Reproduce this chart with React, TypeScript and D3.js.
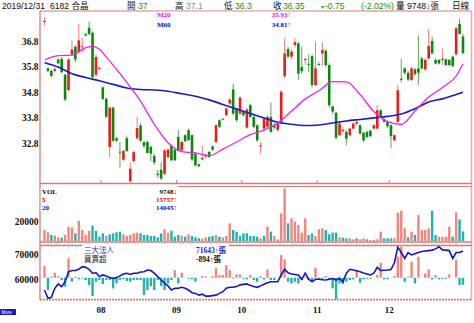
import React from 'react';
import * as d3 from 'd3';

// ---------- DATA ----------
const opens = [37.6,35.75,35.65,35.65,36.1,36.12,35.5,34.9,36.3,36.6,36.4,36.58,37.1,37.35,37.15,35.5,35.75,35.0,34.55,32.65,34.2,33.0,32.47,32.15,33.0,31.3,32.1,33.0,33.5,32.85,32.85,32.66,32.3,31.6,31.76,31.6,32.26,32.72,32.55,33.05,32.52,33.12,33.32,33.12,32.39,31.97,32.17,32.28,32.46,32.68,32.85,33.71,33.73,33.91,34.37,34.92,34.17,33.97,34.04,33.42,34.3,33.84,33.51,32.68,33.38,33.45,33.84,33.5,33.32,33.64,35.44,36.51,36.21,36.67,36.73,35.81,36.08,35.93,36.23,35.09,35.92,36.34,36.44,35.88,34.25,34.0,33.12,33.28,33.25,33.12,33.38,33.58,33.51,33.21,33.25,33.29,33.38,33.38,34.1,33.75,33.64,33.51,32.92,33.64,35.35,35.75,35.58,35.29,35.71,35.75,36.14,35.71,36.14,36.83,36.08,36.08,36.08,36.1,36.08,36.21,36.31,37.5,37.0];
const highs = [37.75,35.8,35.7,35.8,36.15,36.2,35.55,36.15,36.85,36.65,37.5,36.95,37.15,37.6,37.2,36.3,35.8,35.05,34.6,34.25,34.25,33.05,32.85,32.55,33.1,32.05,32.5,33.85,33.6,32.9,32.9,32.7,32.4,31.75,32.06,32.55,32.6,32.75,32.6,33.32,32.9,33.15,33.38,33.15,32.45,32.0,32.7,32.4,32.5,32.72,33.55,33.75,33.8,34.2,34.6,35.15,34.2,34.65,34.1,34.2,34.35,33.9,33.55,32.85,33.85,33.9,34.4,33.6,33.65,34.9,36.93,36.6,36.5,36.95,36.8,36.6,36.15,36.3,36.3,36.8,36.0,36.8,36.5,35.95,34.3,34.05,33.65,33.45,33.3,33.42,33.62,33.7,33.55,33.25,33.3,33.35,33.55,34.3,34.15,33.8,33.7,33.55,33.15,35.09,36.13,35.8,35.65,35.8,35.78,37.05,36.2,36.15,37.3,37.0,36.15,36.12,36.54,36.15,36.12,36.25,37.4,37.72,37.1];
const lows = [37.45,35.6,35.4,35.6,35.9,35.55,34.45,34.85,36.25,36.0,36.35,36.4,37.0,37.05,35.3,35.4,35.7,34.5,33.8,32.25,32.85,32.85,31.85,32.1,32.45,31.25,32.05,32.95,32.85,32.6,32.4,32.1,31.95,31.45,31.35,31.55,32.2,32.1,32.1,32.5,32.45,32.85,32.9,32.1,31.9,31.85,32.13,32.2,32.22,32.5,32.8,33.4,33.7,33.88,34.3,33.9,33.65,33.9,33.85,33.38,33.8,33.4,32.85,32.4,33.3,33.4,33.2,33.35,33.28,33.6,35.4,36.15,36.1,36.6,35.3,35.55,35.9,35.6,35.0,35.05,35.85,35.85,35.8,34.2,33.95,32.95,33.08,33.2,32.72,33.08,33.35,33.5,33.15,32.85,33.0,33.05,33.35,33.35,33.8,33.6,33.4,32.6,32.88,33.6,35.2,35.5,35.25,35.25,35.45,35.1,35.7,35.65,36.1,36.3,35.9,35.9,35.88,35.85,35.85,35.8,36.25,37.1,36.3];
const closes = [37.62,35.65,35.45,35.72,35.95,35.6,34.52,36.1,36.5,36.1,36.85,36.62,37.05,37.1,35.4,36.2,35.77,34.55,33.85,34.2,32.9,32.9,32.43,32.5,32.5,31.8,32.45,33.4,32.9,32.7,32.42,32.39,32.05,31.55,31.41,32.52,32.55,32.13,32.13,32.52,32.85,32.88,32.92,32.16,31.93,31.9,32.22,32.32,32.26,32.55,33.51,33.45,33.77,34.17,34.52,33.97,33.71,34.6,33.91,34.13,33.84,33.45,32.92,32.72,33.77,33.84,33.25,33.42,33.58,34.83,36.34,36.21,36.41,36.78,35.55,35.64,36.12,35.9,35.09,35.75,35.88,36.47,35.88,34.3,34.05,33.02,33.58,33.33,32.98,33.38,33.58,33.64,33.18,32.92,33.05,33.08,33.51,34.1,33.84,33.65,33.47,33.08,33.12,34.89,35.3,35.58,35.31,35.75,35.52,35.58,35.75,36.08,36.63,36.34,35.94,35.94,36.12,35.88,35.88,35.84,37.33,37.1,36.35];

const volumes = [11200,8800,6100,5400,3700,3400,6100,14600,13900,7800,20700,11200,6100,10200,15600,10200,4400,7800,5400,6800,7800,8800,9500,6800,5100,6100,7800,8500,7800,6100,6100,5100,5100,3700,7800,11900,8500,10500,4400,6100,5100,4400,6800,5100,3700,2700,2400,3700,4400,5100,6100,4400,3700,5100,18000,11200,9500,5100,7800,7800,5100,5100,4400,2700,5100,14600,9500,5100,1700,28100,53600,18000,23000,19700,16300,8500,23000,6100,7800,5100,11900,12900,11200,6800,8500,8500,3700,3400,2700,2700,1700,2700,1700,2700,1700,1000,1000,1700,9500,2700,2700,2700,2700,28800,30800,12900,3700,9500,6100,26400,11200,11200,12900,30800,6100,4400,4400,4400,14600,4400,29200,22000,9748];
const volDir = 'rrgrrgrrrg' + 'rrrrggggrg' + 'gggrrrrrgg' + 'gggggrrggg' + 'rgrgggrrgg' + 'rgrrrggggg' + 'gggrgrgrrr' + 'rgrrrrrggr' + 'rrggggrggr' + 'rgrrgrrrrg' + 'ggrrrrgrgr' + 'rrrggrrrrg' + 'rgg';

const instHold = [55600,52200,52600,56300,58100,57000,59000,63100,63600,63600,64100,65200,64900,64100,62500,62700,61100,61800,61400,60700,60400,60700,61400,62200,62500,62000,62500,62500,63000,63100,63800,63600,62500,61100,59700,58400,57300,55600,56300,56300,56700,56300,55600,54500,54200,53500,53900,53100,53100,53300,53500,54200,54900,56300,56700,56700,57000,57700,57900,58100,57500,57000,56700,57300,58000,58600,59000,59000,59000,61800,64100,62700,62200,62000,61800,60000,62500,60000,59000,60000,60000,59800,59700,60000,60300,59700,60400,59000,62500,64100,63800,63500,63100,62600,62200,61800,62500,64900,63600,63700,63800,64000,66800,73200,71000,68600,71000,70000,70500,71000,71400,71600,71800,72000,72500,73400,72100,72000,71800,68600,71000,71000,71643];
const instNet = [1490,-1580,150,640,200,-300,-1150,2480,-510,150,-200,-100,-300,-940,-2350,-510,-300,-810,-300,-300,-1370,-730,-300,-200,-430,-510,-300,-300,-300,-2220,-1580,-1070,-1580,-300,-1070,-1580,-730,-300,980,-730,640,0,-130,-200,-510,0,210,130,0,210,1200,340,340,1620,980,-100,430,430,-130,-210,340,-300,-510,210,-210,1070,-300,-300,0,2900,2350,-510,-730,-510,-730,-300,130,-300,-510,1280,-300,-210,210,-210,-1370,-2780,-730,-810,-510,-300,-210,980,-640,-210,-130,-130,0,340,1920,-210,-210,0,210,2690,3970,-510,130,2050,-730,2690,0,550,1070,-210,340,-210,-130,-130,430,0,2260,-940,-894];

// moving averages: [bar index, value]
const ma20Pts = [[0,36.08],[4,36.25],[8,36.27],[12,36.56],[14,36.62],[16,36.5],[18,36.2],[20,35.88],[24,35.2],[28,34.46],[32,33.55],[36,32.82],[40,32.47],[44,32.42],[48,32.31],[52,32.57],[56,32.85],[60,33.14],[64,33.32],[68,33.6],[72,34.07],[76,34.54],[80,34.87],[84,35.23],[88,35.22],[92,34.72],[96,34.05],[100,33.65],[104,33.54],[108,34.07],[112,34.62],[116,35.0],[120,35.45],[122,35.93]];
const ma60Pts = [[0,35.97],[4,35.8],[8,35.54],[12,35.39],[16,35.26],[20,35.12],[24,34.98],[28,34.92],[32,34.9],[36,34.85],[40,34.75],[44,34.65],[48,34.51],[52,34.33],[56,34.15],[60,33.97],[64,33.8],[68,33.63],[72,33.55],[76,33.5],[80,33.52],[84,33.6],[88,33.68],[92,33.74],[96,33.8],[100,33.86],[104,33.95],[108,34.16],[112,34.43],[116,34.55],[120,34.72],[122,34.81]];

const priceTicks = [36.8, 35.8, 34.8, 33.8, 32.8];
const volTicks = [20000];
const instTicks = [70000, 60000];
const monthStarts = [17, 39, 58, 80, 101];
const monthLabels = ['08', '09', '10', '11', '12'];

// ---------- STYLE ----------
const RED = '#ee1a1a';
const GREEN = '#0c870c';
const RED_WICK = '#f07a7a';
const GREEN_WICK = '#58a858';
const VRED = '#f4847e';
const VTEAL = '#22b3aa';
const BORDER = '#d67a7a';
const SERIF = "'Liberation Serif', 'Noto Sans CJK TC', serif";
const SANS = "'Liberation Sans', 'Noto Sans CJK TC', sans-serif";
const TXTGREEN = '#0a960a';

export default function App() {
  const N = closes.length;
  const L = 40, R = 471.5;
  const x = d3.scaleLinear().domain([0, N - 1]).range([44.5, 463]);
  const yP = d3.scaleLinear().domain([31.237, 38.009]).range([183, 11]);
  const yV = d3.scaleLinear().domain([0, 55000]).range([241, 187]);
  const yI = d3.scaleLinear().domain([51900, 74100]).range([299, 245]);
  const yN = d3.scaleLinear().domain([-2800, 4000]).range([299.6, 246.5]);

  const bw = 2.6;
  const vw = 2.4;

  const maLine = d3.line().x((d) => x(d[0])).y((d) => yP(d[1])).curve(d3.curveMonotoneX);
  const instLine = d3.line().x((d, i) => x(i)).y((d) => yI(d));

  return (
    <svg width={474} height={323} viewBox="0 0 474 323"
      style={{ position: 'absolute', left: 0, top: 0, background: '#fff', display: 'block' }}>
      <defs>
        <clipPath id="cp1"><rect x={L} y={11} width={R - L} height={172} /></clipPath>
        <clipPath id="cp3"><rect x={L} y={245} width={R - L} height={54.5} /></clipPath>
      </defs>
      <rect x={0} y={0} width={474} height={323} fill="#fff" />

      {/* header */}
      <g fontFamily={SANS} fontSize={8.6}>
        <text x={2} y={9} fill="#111">2019/12/31</text>
        <text x={50} y={9} fill="#111">6182 合晶</text>
        <text x={127} y={9} fill="#111">開</text>
        <text x={138} y={9} fill={TXTGREEN}>37</text>
        <text x={175} y={9} fill="#111">高</text>
        <text x={186} y={9} fill="#888">37.1</text>
        <text x={224} y={9} fill="#111">低</text>
        <text x={235} y={9} fill={TXTGREEN}>36.3</text>
        <text x={273} y={9} fill="#111">收</text>
        <text x={283} y={9} fill={TXTGREEN}>36.35</text>
        <text x={320} y={8.5} fill={TXTGREEN} fontSize={5}>▼</text>
        <text x={325} y={9} fill={TXTGREEN}>-0.75</text>
        <text x={361} y={9} fill={TXTGREEN}>(-2.02%)</text>
        <text x={396} y={9} fill="#111">量 9748↓張</text>
        <text x={452} y={9} fill="#111">日線</text>
      </g>

      {/* panel borders */}
      <g stroke={BORDER} fill="none">
        <line x1={L} x2={R} y1={11} y2={11} strokeWidth={1.2} />
        <line x1={L} x2={R} y1={183.5} y2={183.5} strokeWidth={1.6} />
        <line x1={L} x2={R} y1={186.5} y2={186.5} strokeWidth={1.2} />
        <line x1={L} x2={R} y1={242} y2={242} strokeWidth={1.4} />
        <line x1={L} x2={R} y1={245.5} y2={245.5} strokeWidth={1.4} />
        <line x1={L} x2={R} y1={299.7} y2={299.7} strokeWidth={1.8} strokeDasharray="2 1" />
        <line x1={L} x2={L} y1={11} y2={300} strokeWidth={1.3} />
        <line x1={R} x2={R} y1={11} y2={300} strokeWidth={1.6} opacity={0.6} />
        {monthStarts.map((m, k) => (
          <line key={k} x1={x(m - 0.5)} x2={x(m - 0.5)} y1={180} y2={183} strokeWidth={1} />
        ))}
      </g>

      {/* axis labels */}
      <g fontFamily={SERIF} fontWeight="bold" fontSize={9.5} textAnchor="end" fill="#111">
        {priceTicks.map((t) => (
          <text key={t} x={38.5} y={yP(t)} dy="0.35em">{t.toFixed(1)}</text>
        ))}
        {volTicks.map((t) => (
          <text key={t} x={38.5} y={yV(t)} dy="0.35em">{t}</text>
        ))}
        {instTicks.map((t) => (
          <text key={t} x={38.5} y={yI(t)} dy="0.35em">{t}</text>
        ))}
      </g>

      {/* candles */}
      <g clipPath="url(#cp1)">
        {closes.map((c, i) => {
          const o = opens[i];
          const up = c >= o;
          const cx = x(i);
          const top = yP(Math.max(o, c));
          const h = Math.max(1, Math.abs(yP(o) - yP(c)));
          return (
            <g key={i}>
              <line x1={cx} x2={cx} y1={yP(highs[i])} y2={yP(lows[i])}
                stroke={up ? RED_WICK : GREEN_WICK} strokeWidth={1} />
              <rect x={cx - bw / 2} y={top} width={bw} height={h} fill={up ? RED : GREEN} />
            </g>
          );
        })}
        <path d={maLine(ma60Pts)} fill="none" stroke="#1a1acc" strokeWidth={1.6} />
        <path d={maLine(ma20Pts)} fill="none" stroke="#ee22ee" strokeWidth={1.3} />
      </g>

      {/* main legend */}
      <rect x={154} y={11.8} width={147} height={20} fill="#fff" />
      <g fontFamily={SERIF} fontWeight="bold" fontSize={7}>
        <text x={157} y={16.8} fill="#ff00ff">M20</text>
        <text x={157} y={26.8} fill="#0000ff">M60</text>
        <text x={291} y={16.8} fill="#ff00ff" textAnchor="end">35.93↑</text>
        <text x={291} y={26.8} fill="#0000ff" textAnchor="end">34.81↑</text>
      </g>

      {/* volume */}
      <g>
        {volumes.map((v, i) => (
          <rect key={i} x={x(i) - vw / 2} y={yV(v)} width={vw} height={yV(0) - yV(v)}
            fill={volDir[i] === 'r' ? VRED : VTEAL} />
        ))}
      </g>
      <rect x={L + 0.8} y={185} width={137} height={28} fill="#fff" />
      <g fontFamily={SERIF} fontWeight="bold" fontSize={7}>
        <text x={42} y={193.6} fill="#111">VOL</text>
        <text x={177} y={193.6} fill="#111" textAnchor="end">9748↓</text>
        <text x={42} y={201.8} fill="#ff0000">5</text>
        <text x={177} y={201.8} fill="#ff0000" textAnchor="end">15757↑</text>
        <text x={42} y={210} fill="#0000ff">20</text>
        <text x={177} y={210} fill="#0000ff" textAnchor="end">14045↑</text>
      </g>

      {/* institutional panel */}
      <g clipPath="url(#cp3)">
        {instNet.map((v, i) => (
          <rect key={i} x={x(i) - vw / 2} y={Math.min(yN(0), yN(v))} width={vw}
            height={Math.abs(yN(v) - yN(0))} fill={v >= 0 ? VRED : VTEAL} />
        ))}
        <path d={instLine(instHold)} fill="none" stroke="#1414c8" strokeWidth={1.6} />
      </g>
      <rect x={82} y={244} width={147} height={19} fill="#fff" />
      <g fontFamily={SERIF} fontSize={7.5}>
        <text x={84} y={252.5} fill="#2626d0">三大法人</text>
        <text x={84} y={261.5} fill="#111">買賣超</text>
        <text x={226} y={252.5} fill="#2626d0" textAnchor="end" fontWeight="bold">71643↑張</text>
        <text x={221} y={261.5} fill="#111" textAnchor="end" fontWeight="bold">-894↑張</text>
      </g>

      {/* month labels */}
      <g fontFamily={SERIF} fontWeight="bold" fontSize={9} textAnchor="middle" fill="#111">
        {monthStarts.map((m, k) => (
          <text key={k} x={x(m - 0.5)} y={312.5}>{monthLabels[k]}</text>
        ))}
      </g>

      {/* logo */}
      <rect x={0} y={309} width={16} height={6} fill="#1818c8" />
      <text x={1.5} y={313.8} fontFamily={SANS} fontSize={4.5} fill="#fff">More</text>
    </svg>
  );
}
